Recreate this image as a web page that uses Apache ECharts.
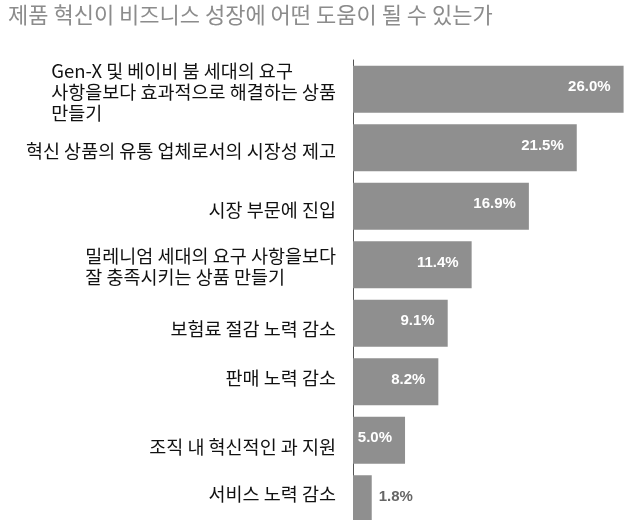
<!DOCTYPE html>
<html>
<head>
<meta charset="utf-8">
<script src="https://cdn.jsdelivr.net/npm/echarts@6/dist/echarts.min.js"></script>
<style>
html,body{margin:0;padding:0;background:#fff;}
#chart{width:641px;height:520px;}
</style>
</head>
<body>
<div id="chart"></div>
<script>
const titleText = '제품 혁신이 비즈니스 성장에 어떤 도움이 될 수 있는가';
const categories = [
  'Gen-X 및 베이비 붐 세대의 요구\n사항을보다 효과적으로 해결하는 상품\n만들기',
  '혁신 상품의 유통 업체로서의 시장성 제고',
  '시장 부문에 진입',
  '밀레니엄 세대의 요구 사항을보다\n잘 충족시키는 상품 만들기',
  '보험료 절감 노력 감소',
  '판매 노력 감소',
  '조직 내 혁신적인 과 지원',
  '서비스 노력 감소'
];
const values = [26.0, 21.5, 16.9, 11.4, 9.1, 8.2, 5.0, 1.8];
// small vertical nudges of the category labels (style only)
const labelNudge = [3, 3, 4, 2, 6, -4, 7, -5];

const chart = echarts.init(document.getElementById('chart'), null, {renderer: 'canvas'});

const catData = categories.map((c, i) => {
  const n = labelNudge[i];
  return {
    value: c,
    textStyle: { padding: n >= 0 ? [2 * n, 0, 0, 0] : [0, 0, -2 * n, 0] }
  };
});

const barData = values.map(v => {
  if (v < 3) {
    return {
      value: v,
      label: { position: 'right', distance: 7, color: '#666666' }
    };
  }
  return { value: v };
});

chart.setOption({
  animation: false,
  backgroundColor: '#ffffff',
  title: {
    text: titleText,
    left: 3,
    top: -1,
    textStyle: {
      fontFamily: 'Noto Sans CJK KR',
      fontSize: 22,
      fontWeight: 'normal',
      color: '#8c8c8c'
    }
  },
  grid: {
    left: 353,
    top: 60,
    height: 468,
    right: 7,
    containLabel: false,
    outerBoundsMode: 'none'
  },
  xAxis: {
    type: 'value',
    min: 0,
    max: 27,
    show: false,
    splitLine: { show: false }
  },
  yAxis: {
    type: 'category',
    inverse: true,
    data: catData,
    axisLine: { show: true, lineStyle: { color: '#555555', width: 1 } },
    axisTick: { show: false },
    axisLabel: {
      margin: 17,
      align: 'right',
      fontFamily: 'Noto Sans CJK KR',
      fontSize: 18.5,
      color: '#111111',
      lineHeight: 21,
      formatter: function (val) {
        return val.split('\n').map(s => '{l|' + s + '}').join('\n');
      },
      rich: {
        l: {
          align: 'left',
          fontFamily: 'Noto Sans CJK KR',
          fontSize: 18.5,
          color: '#111111',
          lineHeight: 21
        }
      }
    }
  },
  series: [{
    type: 'bar',
    data: barData,
    barWidth: 47,
    itemStyle: { color: '#8f8f8f' },
    label: {
      show: true,
      position: 'insideRight',
      distance: 13,
      offset: [0, -2],
      color: '#ffffff',
      fontFamily: 'Liberation Sans',
      fontWeight: 'bold',
      fontSize: 15,
      formatter: p => p.value.toFixed(1) + '%'
    }
  }]
});
</script>
</body>
</html>
